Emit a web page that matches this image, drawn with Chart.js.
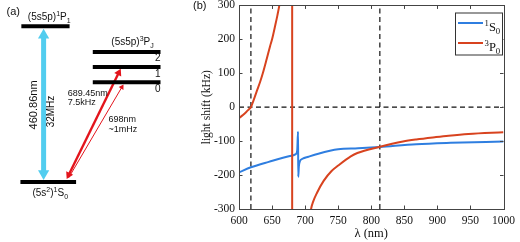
<!DOCTYPE html>
<html><head><meta charset="utf-8">
<script src="https://cdn.jsdelivr.net/npm/chart.js@4.4.1/dist/chart.umd.min.js"></script>
<style>
html,body{margin:0;padding:0;background:#fff;}
#wrap{position:relative;width:520px;height:242px;overflow:hidden;background:#fff;}
#chartA{position:absolute;left:0;top:0;}
#chartB{position:absolute;left:180px;top:0;}
</style></head><body>
<div id="wrap">
<canvas id="chartA" width="180" height="242"></canvas>
<canvas id="chartB" width="340" height="242"></canvas>
</div>
<script>
// ---------- panel (b) data ----------
const xRange = [600, 1000];
const yRange = [-300, 300];
const xTickStep = 50;
const yTickStep = 100;
const magicWavelengths = [618, 813];

const s0Wavelength = [600, 618, 645, 677, 686, 688, 689.3, 689.6, 690.5, 692, 696, 705, 720, 750, 780, 813, 868, 920, 1000];
const s0Shift      = [-192, -177, -161, -144, -138, -128, -72, -205, -175, -160, -152, -146, -137, -124, -121, -117, -109, -105, -101];

const p0LeftWavelength = [600, 606, 611, 615, 618, 622, 627, 632, 636, 642, 647, 650, 655, 658, 661, 663];
const p0LeftShift      = [-32, -23, -14, -6, 0, 20, 48, 75, 100, 143, 180, 200, 243, 270, 300, 325];

const p0PoleWavelength = [680.4, 680.4];
const p0PoleShift      = [330, -330];

const p0RightWavelength = [707.5, 709, 712, 718, 728, 740, 750, 769, 779, 812, 848, 868, 898, 917, 947, 1000];
const p0RightShift      = [-325, -300, -279, -252, -217, -188, -172, -145, -135, -117, -101, -95, -88, -84, -79, -74];

const seriesNames = [['1','S','0'], ['3','P','0']];
const BLUE = '#2f7ee0', RED = '#d8431f';

// ---------- panel (a) schematic data ----------
const levels = [
  {name:'1P1', x:[16, 68],  y:21},
  {name:'3P2', x:[93, 166], y:48},
  {name:'3P1', x:[93, 166], y:64},
  {name:'3P0', x:[93, 166], y:80},
  {name:'1S0', x:[15, 75],  y:185.5}
];
const arrows = [
  {from:[40, 183], to:[40, 24],   color:'#52cdef', width:5,   head:6.5, both:true},
  {from:[65, 182], to:[123, 66],  color:'#e3141c', width:2.4, head:4.5, both:true},
  {from:[67, 181], to:[126, 82.5],color:'#e3141c', width:1,   head:3.2, both:false}
];

function pts(xs, ys){ return xs.map((x,i)=>({x:x, y:ys[i]})); }

function drawRich(ctx, x, y, parts, size, family, align, color){
  ctx.save();
  ctx.fillStyle = color || '#111';
  ctx.textBaseline = 'alphabetic';
  ctx.textAlign = 'left';
  const segs = parts.map(p=>{
    const m = p[1] || '';
    const s = m ? size*0.7 : size;
    ctx.font = s + 'px ' + family;
    return {t:p[0], m:m, s:s, w:ctx.measureText(p[0]).width};
  });
  const total = segs.reduce((a,b)=>a+b.w, 0);
  let cx = align==='center' ? x-total/2 : (align==='right' ? x-total : x);
  segs.forEach(g=>{
    ctx.font = g.s + 'px ' + family;
    const dy = g.m==='sup' ? -size*0.4 : (g.m==='sub' ? size*0.28 : 0);
    ctx.fillText(g.t, cx, y+dy);
    cx += g.w;
  });
  ctx.restore();
}

// ---------- chart (a) ----------
const aDatasets = [];
levels.forEach(l=>{
  aDatasets.push({data:[{x:l.x[0],y:l.y},{x:l.x[1],y:l.y}], showLine:true, borderColor:'#000',
    borderWidth:4, pointRadius:0, borderCapStyle:'butt', clip:false});
});
arrows.forEach(a=>{
  const dx = a.to[0]-a.from[0], dy = a.to[1]-a.from[1];
  const len = Math.hypot(dx, dy), ux = dx/len, uy = dy/len;
  const ang = Math.atan2(dx, -dy)*180/Math.PI;
  const tipC = {x:a.to[0]-ux*a.head, y:a.to[1]-uy*a.head};
  const baseC = a.both ? {x:a.from[0]+ux*a.head, y:a.from[1]+uy*a.head} : {x:a.from[0], y:a.from[1]};
  aDatasets.push({data:[baseC, tipC], showLine:true, borderColor:a.color, borderWidth:a.width,
    pointRadius:0, borderCapStyle:'butt', clip:false});
  aDatasets.push({data:[tipC], showLine:false, pointStyle:'triangle', pointRadius:a.head,
    rotation:ang, backgroundColor:a.color, borderWidth:0, clip:false});
  if (a.both) aDatasets.push({data:[baseC], showLine:false, pointStyle:'triangle', pointRadius:a.head,
    rotation:ang+180, backgroundColor:a.color, borderWidth:0, clip:false});
});

const SANS = '"Liberation Sans", Arial, sans-serif';
const SERIF = '"Liberation Serif", "Times New Roman", serif';

const labelsA = {
  id:'labelsA',
  afterDraw(chart){
    const ctx = chart.ctx, X = chart.scales.x, Y = chart.scales.y;
    const px = v=>X.getPixelForValue(v), py = v=>Y.getPixelForValue(v);
    drawRich(ctx, px(0), py(9), [['(a)']], 11, SANS, 'left');
    drawRich(ctx, px(23), py(14), [['(5s5p)'],['1','sup'],['P'],['1','sub']], 10, SANS, 'left');
    drawRich(ctx, px(113), py(40.5), [['(5s5p)'],['3','sup'],['P'],['J','sub']], 10, SANS, 'left');
    drawRich(ctx, px(166), py(57.5), [['2']], 10, SANS, 'right');
    drawRich(ctx, px(166), py(74), [['1']], 10, SANS, 'right');
    drawRich(ctx, px(166), py(90), [['0']], 10, SANS, 'right');
    drawRich(ctx, px(66), py(94.5), [['689.45nm']], 9, SANS, 'left');
    drawRich(ctx, px(66), py(104.5), [['7.5kHz']], 9, SANS, 'left');
    drawRich(ctx, px(110), py(122.5), [['698nm']], 9, SANS, 'left');
    drawRich(ctx, px(110), py(133), [['~1mHz']], 9, SANS, 'left');
    drawRich(ctx, px(28), py(200), [['(5s'],['2','sup'],[')'],['1','sup'],['S'],['0','sub']], 10, SANS, 'left');
    [['460.86nm', 29.5, 104, 11], ['32MHz', 48, 111, 10]].forEach(r=>{
      ctx.save();
      ctx.translate(px(r[1]), py(r[2]));
      ctx.rotate(-Math.PI/2);
      ctx.fillStyle = '#111';
      ctx.font = r[3] + 'px ' + SANS;
      ctx.textAlign = 'center';
      ctx.textBaseline = 'middle';
      ctx.fillText(r[0], 0, 0);
      ctx.restore();
    });
  }
};

new Chart(document.getElementById('chartA'), {
  type:'scatter',
  data:{datasets:aDatasets},
  options:{
    responsive:false, animation:false, devicePixelRatio:1,
    layout:{padding:0},
    plugins:{legend:{display:false}, tooltip:{enabled:false}},
    scales:{
      x:{type:'linear', min:0, max:180, display:false},
      y:{type:'linear', min:0, max:242, reverse:true, display:false}
    }
  },
  plugins:[labelsA]
});

// ---------- chart (b) ----------
const AXIS = '#444';
const frameB = {
  id:'frameB',
  afterDatasetsDraw(chart){
    const ctx = chart.ctx, a = chart.chartArea, X = chart.scales.x, Y = chart.scales.y;
    ctx.save();
    ctx.strokeStyle = AXIS; ctx.lineWidth = 1;
    ctx.beginPath();
    X.ticks.forEach(t=>{
      const p = Math.round(X.getPixelForValue(t.value))+0.5;
      ctx.moveTo(p, a.bottom); ctx.lineTo(p, a.bottom-3.5);
      ctx.moveTo(p, a.top); ctx.lineTo(p, a.top+3.5);
    });
    Y.ticks.forEach(t=>{
      const p = Math.round(Y.getPixelForValue(t.value))+0.5;
      ctx.moveTo(a.left, p); ctx.lineTo(a.left+3.5, p);
      ctx.moveTo(a.right, p); ctx.lineTo(a.right-3.5, p);
    });
    ctx.stroke();
    ctx.strokeRect(Math.round(a.left)+0.5, Math.round(a.top)+0.5, Math.round(a.right-a.left), Math.round(a.bottom-a.top));
    const bx = 275, by = 12.5, bw = 47, bh = 42;
    ctx.fillStyle = '#fff';
    ctx.fillRect(bx, by, bw, bh);
    ctx.strokeStyle = '#333';
    ctx.strokeRect(bx+0.5, by+0.5, bw, bh);
    const cols = [BLUE, RED];
    [23, 43].forEach((ry, i)=>{
      ctx.strokeStyle = cols[i]; ctx.lineWidth = 2;
      ctx.beginPath(); ctx.moveTo(278, ry); ctx.lineTo(303, ry); ctx.stroke();
      const n = seriesNames[i];
      drawRich(ctx, 304.5, ry+7.5, [[n[0],'sup'],[n[1]],[n[2],'sub']], 12.5, SERIF, 'left', '#111');
    });
    ctx.restore();
  },
  afterDraw(chart){
    drawRich(chart.ctx, 13, 9, [['(b)']], 11, SANS, 'left');
  }
};

const lineBase = {showLine:true, pointRadius:0, borderWidth:2, clip:0, tension:0.4, cubicInterpolationMode:'monotone'};
const dashBase = {showLine:true, pointRadius:0, borderWidth:1.2, borderColor:'#111', borderDash:[5,3.5], clip:0, tension:0};

const bDatasets = [
  Object.assign({}, lineBase, {label:'3P0 pole', data:pts(p0PoleWavelength, p0PoleShift), borderColor:RED, tension:0, cubicInterpolationMode:'default'}),
  Object.assign({}, lineBase, {label:'3P0', data:pts(p0LeftWavelength, p0LeftShift), borderColor:RED}),
  Object.assign({}, lineBase, {label:'3P0 right', data:pts(p0RightWavelength, p0RightShift), borderColor:RED}),
  Object.assign({}, lineBase, {label:'1S0', data:pts(s0Wavelength, s0Shift), borderColor:BLUE}),
  Object.assign({}, dashBase, {label:'zero', data:[{x:xRange[0], y:0},{x:xRange[1], y:0}]})
];
magicWavelengths.forEach(m=>{
  bDatasets.push(Object.assign({}, dashBase, {label:'magic', data:[{x:m, y:yRange[0]},{x:m, y:yRange[1]}]}));
});

new Chart(document.getElementById('chartB'), {
  type:'scatter',
  data:{datasets:bDatasets},
  options:{
    responsive:false, animation:false, devicePixelRatio:1,
    layout:{padding:{left:0, right:11, top:0, bottom:0}},
    plugins:{legend:{display:false}, tooltip:{enabled:false}},
    scales:{
      x:{type:'linear', min:xRange[0], max:xRange[1],
         grid:{display:false, drawTicks:false}, border:{display:false},
         ticks:{stepSize:xTickStep, color:'#111', font:{family:SERIF, size:11.5}, padding:5, maxRotation:0, autoSkip:false,
                callback:v=>String(v)},
         title:{display:true, text:'λ (nm)', color:'#111', font:{family:SERIF, size:12.5}, padding:{top:0, bottom:1}},
         afterFit(s){ s.height = 33; }},
      y:{type:'linear', min:yRange[0], max:yRange[1],
         grid:{display:false, drawTicks:false}, border:{display:false},
         ticks:{stepSize:yTickStep, color:'#111', font:{family:SERIF, size:11.5, lineHeight:0.25}, padding:4, autoSkip:false,
                callback:v=>String(v)},
         title:{display:true, text:'light shift (kHz)', color:'#111', font:{family:SERIF, size:11.5}, padding:{top:20, bottom:0}},
         afterFit(s){ s.width = 59; }}
    }
  },
  plugins:[frameB]
});
</script>
</body></html>
